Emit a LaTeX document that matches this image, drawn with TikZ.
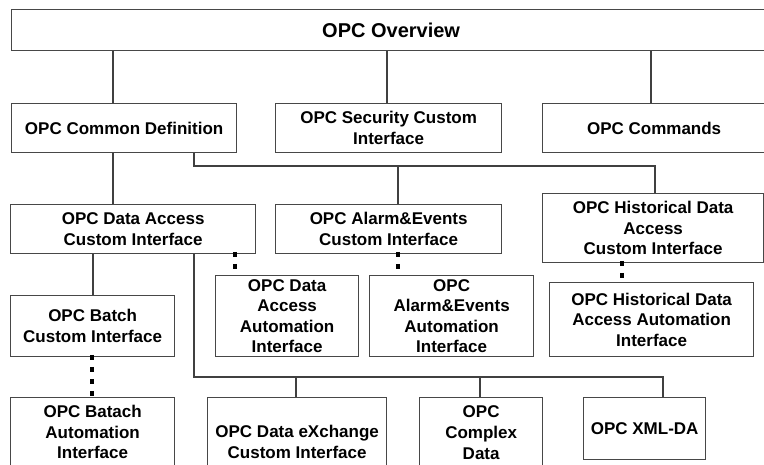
\documentclass[tikz,border=0pt]{standalone}
\usepackage{fontspec}
\setmainfont{Liberation Sans}
\begin{document}
\begin{tikzpicture}[x=1pt,y=-1pt,
  box/.style={draw=black!72, line width=1.3pt, fill=white, inner sep=0pt,
    align=center, anchor=north west,
    font=\fontsize{17}{20.6}\selectfont\bfseries},
  link/.style={draw=black!75, line width=1.1pt},
  dotlink/.style={draw=black, line width=4pt, dash pattern=on 5pt off 7pt,
    shorten <=-2.5pt}]
\useasboundingbox (0,0) rectangle (764,465);
\clip (0,0) rectangle (764,465);

% top level
\node[box, minimum width=759pt, minimum height=41pt,
  font=\fontsize{20}{24}\selectfont\bfseries] (top) at (11,9) {OPC Overview};

% second row
\node[box, minimum width=225pt, minimum height=49pt] (cd) at (11,103) {OPC Common Definition};
\node[box, minimum width=226pt, minimum height=49pt] (sec) at (275,103) {OPC Security Custom\\Interface};
\node[box, minimum width=223pt, minimum height=49pt] (cmd) at (542,103) {OPC Commands};

% third row
\node[box, minimum width=245pt, minimum height=49pt] (da) at (10,204) {OPC Data Access\\Custom Interface};
\node[box, minimum width=226pt, minimum height=49pt] (ae) at (275,204) {OPC Alarm\&Events\\Custom Interface};
\node[box, minimum width=221pt, minimum height=69pt] (hist) at (542,193) {OPC Historical Data\\Access\\Custom Interface};

% fourth row
\node[box, minimum width=164pt, minimum height=61pt] (batch) at (10,295) {OPC Batch\\Custom Interface};
\node[box, minimum width=143pt, minimum height=81pt] (daauto) at (215,275) {OPC Data\\Access\\Automation\\Interface};
\node[box, minimum width=164pt, minimum height=81pt] (aeauto) at (369,275) {OPC\\Alarm\&Events\\Automation\\Interface};
\node[box, minimum width=204pt, minimum height=74pt] (histauto) at (549,282) {OPC Historical Data\\Access Automation\\Interface};

% bottom row
\node[box, minimum width=164pt, minimum height=69pt] (batauto) at (10,397) {OPC Batach\\Automation\\Interface};
\node[box, minimum width=179pt, minimum height=88pt] (dx) at (207,397) {OPC Data eXchange\\Custom Interface};
\node[box, minimum width=123pt, minimum height=70pt] (cplx) at (419,397) {OPC\\Complex\\Data};
\node[box, minimum width=122pt, minimum height=62pt] (xml) at (583,397) {OPC XML-DA};

% columns used by the connectors
\coordinate (c1) at (113,0);
\coordinate (c2) at (387,0);
\coordinate (c3) at (651,0);
\coordinate (c4) at (194,166);
\coordinate (c5) at (398,0);
\coordinate (c6) at (655,0);
\coordinate (c7) at (93,0);
\coordinate (c8) at (194,377);
\coordinate (c9) at (296,0);
\coordinate (c10) at (480,0);
\coordinate (c11) at (663,0);
\coordinate (d1) at (235,0);
\coordinate (d2) at (398,0);
\coordinate (d3) at (622,0);
\coordinate (d4) at (92,0);

% solid connectors
\draw[link] (top.south -| c1) -- (cd.north -| c1);
\draw[link] (top.south -| c2) -- (sec.north -| c2);
\draw[link] (top.south -| c3) -- (cmd.north -| c3);
\draw[link] (cd.south -| c1) -- (da.north -| c1);
\draw[link] (cd.south -| c4) -- (c4) -- (c4 -| c6) -- (hist.north -| c6);
\draw[link] (c4 -| c5) -- (ae.north -| c5);
\draw[link] (da.south -| c7) -- (batch.north -| c7);
\draw[link] (da.south -| c8) -- (c8) -- (c8 -| c11) -- (xml.north -| c11);
\draw[link] (c8 -| c9) -- (dx.north -| c9);
\draw[link] (c8 -| c10) -- (cplx.north -| c10);

% dotted connectors to the automation interfaces
\draw[dotlink] (da.south -| d1) -- (daauto.north -| d1);
\draw[dotlink] (ae.south -| d2) -- (aeauto.north -| d2);
\draw[dotlink] (hist.south -| d3) -- (histauto.north -| d3);
\draw[dotlink] (batch.south -| d4) -- (batauto.north -| d4);
\end{tikzpicture}
\end{document}
